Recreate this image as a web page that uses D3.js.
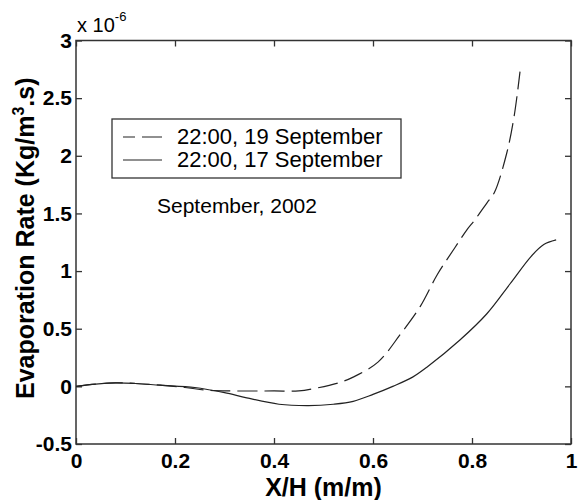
<!DOCTYPE html>
<html>
<head>
<meta charset="utf-8">
<script src="https://cdn.jsdelivr.net/npm/d3@7"></script>
<style>
  body { margin: 0; background: #fff; }
  svg { display: block; font-family: Arial, "Liberation Sans", sans-serif; }
</style>
</head>
<body>
<div id="chart"></div>
<script>
// tick values and labels
const xTicks = [0, 0.2, 0.4, 0.6, 0.8, 1];
const xTickLabels = ["0", "0.2", "0.4", "0.6", "0.8", "1"];
const yTicks = [-0.5, 0, 0.5, 1, 1.5, 2, 2.5, 3];
const yTickLabels = ["-0.5", "0", "0.5", "1", "1.5", "2", "2.5", "3"];

// 22:00, 19 September (dashed), values in 1e-6 Kg/m3.s
const sep19X = [0, 0.04, 0.08, 0.12, 0.17, 0.22, 0.27, 0.32, 0.40, 0.45, 0.48, 0.53, 0.56, 0.61, 0.655, 0.695, 0.73, 0.765, 0.79, 0.805, 0.83, 0.845, 0.87, 0.885, 0.897];
const sep19Y = [0, 0.02, 0.03, 0.025, 0.01, -0.01, -0.035, -0.04, -0.04, -0.04, -0.02, 0.03, 0.08, 0.21, 0.45, 0.69, 0.97, 1.20, 1.36, 1.44, 1.59, 1.68, 2.02, 2.34, 2.73];

// 22:00, 17 September (solid)
const sep17X = [0, 0.04, 0.08, 0.12, 0.17, 0.24, 0.30, 0.345, 0.41, 0.47, 0.52, 0.56, 0.60, 0.64, 0.68, 0.71, 0.775, 0.83, 0.877, 0.92, 0.945, 0.97];
const sep17Y = [0, 0.02, 0.03, 0.025, 0.01, -0.01, -0.055, -0.10, -0.155, -0.167, -0.155, -0.13, -0.07, 0.0, 0.08, 0.17, 0.40, 0.63, 0.89, 1.13, 1.23, 1.27];

const seriesNames = ["22:00, 19 September", "22:00, 17 September"];

const width = 583, height = 500;
const margin = { left: 76, right: 12, top: 40.5, bottom: 56 };
const innerW = width - margin.left - margin.right;
const innerH = height - margin.top - margin.bottom;

const svg = d3.select('#chart').append('svg')
    .attr('width', width)
    .attr('height', height);

const x = d3.scaleLinear().domain([0, 1]).range([margin.left, margin.left + innerW]);
const y = d3.scaleLinear().domain([-0.5, 3]).range([margin.top + innerH, margin.top]);

const axisColor = '#333';

// bottom axis with labels
const gx = svg.append('g')
    .attr('transform', `translate(0,${margin.top + innerH})`)
    .call(d3.axisBottom(x).tickValues(xTicks).tickSize(-6).tickPadding(9)
        .tickFormat((d, i) => xTickLabels[i]));
// left axis with labels
const gy = svg.append('g')
    .attr('transform', `translate(${margin.left},0)`)
    .call(d3.axisLeft(y).tickValues(yTicks).tickSize(-6).tickPadding(4)
        .tickFormat((d, i) => yTickLabels[i]));
// top and right ticks only
const gt = svg.append('g')
    .attr('transform', `translate(0,${margin.top})`)
    .call(d3.axisTop(x).tickValues(xTicks).tickSize(-6).tickFormat(''));
const gr = svg.append('g')
    .attr('transform', `translate(${margin.left + innerW},0)`)
    .call(d3.axisRight(y).tickValues(yTicks).tickSize(-6).tickFormat(''));

[gx, gy, gt, gr].forEach(g => {
    g.select('.domain').remove();
    g.selectAll('line').attr('stroke', axisColor).attr('stroke-width', 1.3);
    g.selectAll('text')
        .attr('fill', '#000')
        .style('font-size', '21px')
        .style('font-weight', 'bold')
        .style('font-family', 'Arial, "Liberation Sans", sans-serif');
});

// box
svg.append('rect')
    .attr('x', margin.left)
    .attr('y', margin.top)
    .attr('width', innerW)
    .attr('height', innerH)
    .attr('fill', 'none')
    .attr('stroke', axisColor)
    .attr('stroke-width', 1.5);

// curves
const line = d3.line()
    .x(d => x(d[0]))
    .y(d => y(d[1]))
    .curve(d3.curveCatmullRom.alpha(0.5));

svg.append('path')
    .datum(d3.zip(sep19X, sep19Y))
    .attr('d', line)
    .attr('fill', 'none')
    .attr('stroke', '#222')
    .attr('stroke-width', 1.2)
    .attr('stroke-dasharray', '20,7');

svg.append('path')
    .datum(d3.zip(sep17X, sep17Y))
    .attr('d', line)
    .attr('fill', 'none')
    .attr('stroke', '#222')
    .attr('stroke-width', 1.2);

// legend
const legend = svg.append('g');
legend.append('rect')
    .attr('x', 112).attr('y', 119)
    .attr('width', 289).attr('height', 59)
    .attr('fill', '#fff')
    .attr('stroke', axisColor)
    .attr('stroke-width', 1.3);

seriesNames.forEach((name, i) => {
    const ly = 137 + i * 23;
    legend.append('line')
        .attr('x1', 123).attr('x2', 162)
        .attr('y1', ly).attr('y2', ly)
        .attr('stroke', '#222')
        .attr('stroke-width', 1.2)
        .attr('stroke-dasharray', i === 0 ? '12,7,20,7' : null);
    legend.append('text')
        .attr('x', 177).attr('y', ly + 7)
        .style('font-size', '22px')
        .text(name);
});

// annotation
svg.append('text')
    .attr('x', 157).attr('y', 213)
    .style('font-size', '21px')
    .text('September, 2002');

// exponent
const expo = svg.append('text')
    .attr('x', 77).attr('y', 32)
    .style('font-size', '20px');
expo.append('tspan').text('x 10');
expo.append('tspan').attr('dy', -11).style('font-size', '13px').text('-6');

// axis labels
svg.append('text')
    .attr('x', margin.left + innerW / 2)
    .attr('y', 496)
    .attr('text-anchor', 'middle')
    .style('font-size', '25px')
    .style('font-weight', 'bold')
    .text('X/H (m/m)');

const ylab = svg.append('text')
    .attr('transform', `translate(34,${margin.top + innerH / 2 - 4}) rotate(-90)`)
    .attr('text-anchor', 'middle')
    .style('font-size', '25px')
    .style('font-weight', 'bold');
ylab.append('tspan').text('Evaporation Rate (Kg/m');
ylab.append('tspan').attr('dy', -10).style('font-size', '16px').text('3');
ylab.append('tspan').attr('dy', 10).text('.s)');
</script>
</body>
</html>
